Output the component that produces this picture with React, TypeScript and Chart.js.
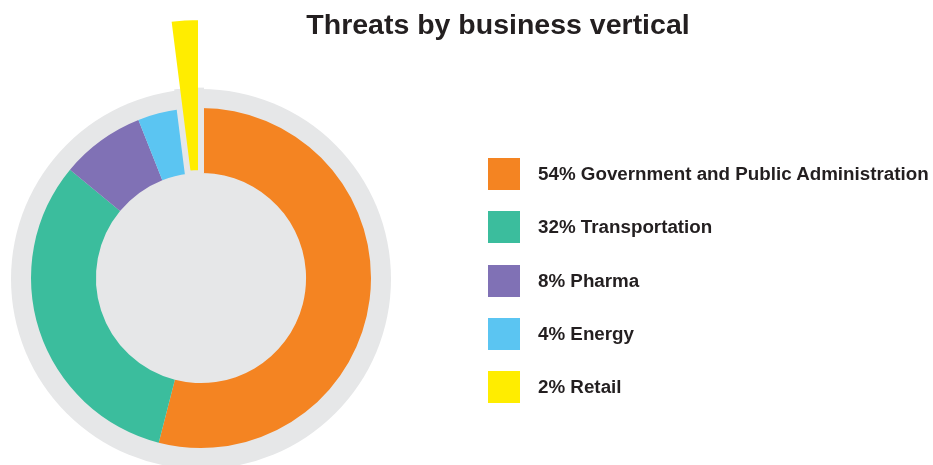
import React, { useEffect, useRef } from "react";
import { Chart, registerables } from "chart.js";

Chart.register(...registerables);

// ---------- data ----------
const TITLE = "Threats by business vertical";
const categories = [
  "Government and Public Administration",
  "Transportation",
  "Pharma",
  "Energy",
  "Retail",
];
const shares = [54, 32, 8, 4, 2];
const colors = ["#F48422", "#3BBD9D", "#8071B5", "#5BC5F2", "#FFED00"];

// ---------- styling ----------
const GREY = "#E6E7E8";
const TEXT = "#231F20";
const FONT = '"Liberation Sans", Arial, Helvetica, sans-serif';
const RING_RADIUS = 170;
const BACKDROP_RADIUS = 190;
const EXTRUDED_INDEX = categories.indexOf("Retail");
const EXTRUDED_RADIUS = 261;
const GAP = 6;

const backdropPlugin = {
  id: "backdrop",
  beforeDatasetsDraw(chart: any) {
    const el = chart.getDatasetMeta(0).data[0];
    if (!el) return;
    const ctx = chart.ctx;
    ctx.save();
    ctx.fillStyle = GREY;
    ctx.beginPath();
    ctx.arc(el.x, el.y + 1, BACKDROP_RADIUS, 0, Math.PI * 2);
    ctx.fill();
    ctx.restore();
  },
};

const extrudePlugin = {
  id: "extrude",
  afterDatasetsUpdate(chart: any) {
    const el = chart.getDatasetMeta(0).data[EXTRUDED_INDEX];
    if (el) el.outerRadius = EXTRUDED_RADIUS;
  },
};

export default function App() {
  const ref = useRef<HTMLCanvasElement | null>(null);

  useEffect(() => {
    document.body.style.margin = "0";
    const canvas = ref.current!;
    const chart = new Chart(canvas, {
      type: "doughnut",
      data: {
        labels: categories,
        datasets: [
          {
            data: shares,
            backgroundColor: colors,
            borderWidth: (c: any) => (c.dataIndex === EXTRUDED_INDEX ? GAP : 0),
            borderColor: (c: any) => {
              if (c.dataIndex !== EXTRUDED_INDEX) return "rgba(0,0,0,0)";
              const chart = c.chart;
              const a = chart.chartArea;
              if (!a) return GREY;
              const cx = (a.left + a.right) / 2;
              const cy = (a.top + a.bottom) / 2;
              const R = EXTRUDED_RADIUS + GAP;
              const g = chart.ctx.createRadialGradient(cx, cy, 0, cx, cy, R);
              const s = BACKDROP_RADIUS / R;
              g.addColorStop(0, GREY);
              g.addColorStop(s, GREY);
              g.addColorStop(Math.min(1, s + 0.003), "#FFFFFF");
              g.addColorStop(1, "#FFFFFF");
              return g;
            },
            borderAlign: "center",
          } as any,
        ],
      },
      options: {
        responsive: false,
        animation: false,
        events: [],
        radius: RING_RADIUS,
        cutout: "61.8%",
        rotation: 0,
        layout: { padding: { left: 31, top: 108, right: 562, bottom: 17 } },
        plugins: {
          legend: { display: false },
          tooltip: { enabled: false },
          title: { display: false },
        },
      } as any,
      plugins: [backdropPlugin, extrudePlugin],
    });
    return () => chart.destroy();
  }, []);

  return (
    <div style={{ position: "relative", width: 933, height: 465, background: "#fff", overflow: "hidden" }}>
      <canvas ref={ref} width={933} height={465} style={{ position: "absolute", left: 0, top: 0 }} />
      <div
        style={{
          position: "absolute",
          left: 298,
          width: 400,
          top: 10,
          textAlign: "center",
          fontFamily: FONT,
          fontWeight: 700,
          fontSize: 28.5,
          lineHeight: 1,
          color: TEXT,
          whiteSpace: "nowrap",
        }}
      >
        {TITLE}
      </div>
      {categories.map((name, i) => (
        <div
          key={name}
          style={{
            position: "absolute",
            left: 488,
            top: 158 + i * 53.3,
            height: 32,
            display: "flex",
            alignItems: "center",
            whiteSpace: "nowrap",
          }}
        >
          <div style={{ width: 32, height: 32, background: colors[i], marginRight: 18 }} />
          <span style={{ fontFamily: FONT, fontWeight: 700, fontSize: 18.8, color: TEXT }}>
            {`${shares[i]}% ${name}`}
          </span>
        </div>
      ))}
    </div>
  );
}
